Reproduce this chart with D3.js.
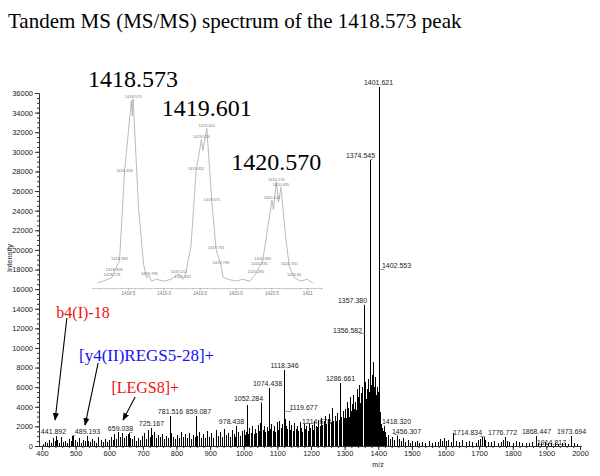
<!DOCTYPE html>
<html><head><meta charset="utf-8">
<script src="https://cdn.jsdelivr.net/npm/d3@7"></script>
<style>body{margin:0;background:#fff}svg{display:block}</style>
</head><body><svg id="c" width="600" height="476"></svg>
<script>
// ---------------- DATA ----------------
const titleText = "Tandem MS (MS/MS) spectrum of the 1418.573 peak";
const xTickValues = [400,500,600,700,800,900,1000,1100,1200,1300,1400,1500,1600,1700,1800,1900,2000];
const yTickValues = [0,2000,4000,6000,8000,10000,12000,14000,16000,18000,20000,22000,24000,26000,28000,30000,32000,34000,36000];
const xAxisLabel = "m/z";
const yAxisLabel = "Intensity";

// labelled fragment peaks
const labelledMz = [441.892,489.193,659.038,725.167,781.516,859.087,978.438,1052.284,1074.438,1118.346,1119.677,1214.678,1286.661,1356.582,1357.380,1374.545,1401.621,1402.553,1418.320,1456.307,1714.834,1776.772,1868.447,1914.817,1973.694];
const labelledIntensity = [970,970,1275,1785,3110,3010,2090,4335,5865,7800,3420,1990,6375,11370,14330,29120,36570,17900,1990,1070,870,870,1070,300,1070];
const labelledText = ["441.892","489.193","659.038","725.167","781.516","859.087","978.438","1052.284","1074.438","1118.346","1119.677","1214.678","1286.661","1356.582","1357.380","1374.545","1401.621","1402.553","1418.320","1456.307","1714.834","1776.772","1868.447","1914.817","1973.694"];

// unlabelled peaks [m/z, intensity]
const minorPeaks = [
[403,250],[409,400],[415,300],[421,600],[427,350],[433,800],[438,500],[445,650],[450,300],[456,900],[462,450],[468,550],[474,300],[480,700],[486,500],[492,1000],[497,600],[503,450],[509,800],[515,350],[521,650],[527,500],[533,1000],[538,550],[544,400],[550,750],[556,500],[562,350],[568,900],[574,600],[580,450],[586,700],[592,400],[598,650],
[604,900],[610,600],[615,1200],[621,750],[627,1400],[633,900],[639,1300],[645,800],[650,1000],[656,1200],[662,850],[668,700],[674,1000],[680,550],[686,800],[692,650],[698,1000],[704,1300],[710,750],[716,1600],[722,900],[728,1100],[734,1400],[740,800],[746,1100],[752,900],[758,1200],[764,700],[770,1000],[776,800],[784,1300],[790,900],[796,700],
[802,1100],[808,800],[814,1400],[820,950],[826,1200],[832,850],[838,1300],[844,750],[850,1100],[856,900],[862,1000],[868,1400],[874,800],[880,1200],[886,850],[892,1500],[898,950],[904,1300],[910,850],[916,1600],[922,1050],[928,1400],[934,950],[940,1700],[946,1150],[952,1300],[958,950],[964,1600],[970,1250],[975,900],[982,1400],[988,1050],[994,1500],
[1000,1600],[1004,1100],[1008,1400],[1010,4200],[1013,1200],[1017,1800],[1021,1300],[1025,2000],[1029,1200],[1033,1700],[1037,1300],[1041,2100],[1045,1500],[1048,2300],[1056,1600],[1060,2000],[1064,1400],[1068,1900],[1071,1500],[1078,1700],[1082,2200],[1086,1500],[1090,2000],[1094,1400],[1098,2400],[1102,1600],[1106,2600],[1110,1800],[1114,2200],[1122,2800],[1126,2000],[1130,1700],[1134,2500],[1138,1600],[1142,2100],[1146,1500],[1150,2300],[1154,1700],[1158,2000],[1162,1500],[1166,2400],[1170,1800],[1174,1400],[1178,2200],[1182,1700],[1186,2000],[1190,1500],[1194,2300],[1198,1800],
[1202,2100],[1206,1600],[1210,2500],[1218,1900],[1222,2700],[1226,2000],[1230,2900],[1234,2100],[1238,2500],[1242,3100],[1246,2200],[1250,2800],[1254,3300],[1258,2400],[1262,3900],[1266,2600],[1270,3100],[1274,2500],[1278,3400],[1282,2700],[1290,3000],[1294,3600],[1298,2900],
[1301,3800],[1303,2900],[1306,4500],[1308,3300],[1311,3900],[1313,3000],[1316,5000],[1318,3600],[1321,4300],[1323,3400],[1326,5200],[1328,3800],[1331,4500],[1333,3700],[1336,5800],[1338,4200],[1341,5000],[1343,6200],[1346,4400],[1348,5400],[1351,4700],[1353,6000],[1359,5200],[1361,6500],[1364,4800],[1366,5800],[1369,5000],[1371,6800],[1373,5500],[1377,6200],[1379,5400],[1382,7200],[1385,8600],[1387,6000],[1390,7000],[1392,5200],[1395,6000],[1397,4800],[1399,5500],[1404,3500],[1406,2600],[1409,2200],[1412,1800],[1415,1500],[1421,1400],[1424,900],
[1430,1100],[1436,700],[1442,900],[1448,600],[1462,700],[1468,500],[1474,800],[1480,400],[1487,600],[1494,350],[1500,500],[1508,400],[1515,550],[1522,300],[1530,450],[1540,350],[1550,500],[1560,300],[1570,450],[1578,400],[1585,700],[1590,550],[1596,800],[1602,500],[1608,650],[1615,400],[1623,1300],[1630,500],[1640,450],[1650,600],[1660,400],[1670,550],[1680,450],[1690,350],[1697,600],[1703,700],[1709,900],[1718,600],[1726,450],[1735,400],[1745,500],[1755,350],[1765,450],[1772,600],[1782,500],[1790,400],[1800,350],[1810,550],[1818,400],[1828,300],[1838,350],[1848,300],[1858,400],[1875,350],[1885,300],[1895,400],[1905,300],[1925,350],[1935,250],[1945,300],[1955,350],[1965,250],[1982,300],[1992,200]
];

// annotations (fragment assignments) and the peaks they point to
const annoText = ["b4(I)-18","[y4(II)REGS5-28]+","[LEGS8]+"];
const annoTargetMz = [439,528,641];
const annoTargetIntensity = [2650,2140,2650];

// inset: isotope cluster of the precursor (relative intensity, %)
const insetMz  = [1418.08,1418.15,1418.22,1418.278,1418.308,1418.383,1418.453,1418.548,1418.562,1418.573,1418.65,1418.72,1418.76,1418.798,1418.83,1418.90,1419.00,1419.10,1419.212,1419.262,1419.30,1419.38,1419.452,1419.526,1419.545,1419.601,1419.671,1419.731,1419.796,1419.83,1419.90,1420.00,1420.10,1420.20,1420.285,1420.335,1420.380,1420.45,1420.510,1420.53,1420.570,1420.60,1420.635,1420.70,1420.750,1420.82,1420.90,1421.00,1421.08];
const insetRel = [0,1,2,3,6,12,60,99,91,100,40,10,3,4,1,2,1,2,5,2,4,20,61,78,72,84,44,18,10,3,2,1,2,1,5,9,12,30,45,40,55,44,52,25,9,3,1,2,0];
const insetLabelled = ["1418.278","1418.308","1418.383","1418.453","1418.573","1418.798","1419.212","1419.262","1419.452","1419.526","1419.601","1419.671","1419.731","1419.796","1420.285","1420.335","1420.380","1420.510","1420.570","1420.635","1420.750","1420.82"];
const insetTickValues = [1418.5,1419.0,1419.5,1420.0,1420.5,1421];
const insetTickText = ["1418.5","1419.0","1419.5","1420.0","1420.5","1421"];
const insetPeakMz = [1418.573,1419.601,1420.570];
const insetPeakText = ["1418.573","1419.601","1420.570"];

// ---------------- LAYOUT / STYLE ----------------
const labelNudge = {
 "441.892":-3,"489.193":15,"659.038":-9,"859.087":2,"978.438":-5,"1052.284":-13,"1074.438":-2,
 "1119.677":19,"1356.582":-17,"1357.380":-12,"1374.545":-10,"1401.621":-1,"1402.553":17,
 "1418.320":12,"1456.307":9,"1714.834":-17,"1776.772":-3
};
const labelDy = {"1914.817":4};
const annoLayout = [
 {color:"#ee1111", tx:522, ti:13570, fx:474, fi:13060, size:16},
 {color:"#1111ee", tx:711, ti:9180, fx:567, fi:8470, size:17},
 {color:"#ee1111", tx:707, ti:5920, fx:677, fi:5000, size:16}
];

const svg = d3.select("#c");
const sans = "Liberation Sans, Arial, sans-serif";
const serif = "Liberation Serif, Times New Roman, serif";

const x = d3.scaleLinear().domain([400,2000]).range([42,580]);
const y = d3.scaleLinear().domain([0,36000]).range([446,93]);

svg.append("text").attr("x",8).attr("y",28).attr("font-family",serif).attr("font-size",21).attr("fill","#000").text(titleText);

const axisCol = "#333";
const gx = svg.append("g").attr("transform","translate(0,446)");
gx.call(d3.axisBottom(x).tickValues(d3.range(400,2001,20)).tickSize(2).tickFormat(""));
gx.call(g=>g.select(".domain").remove());
const gx2 = svg.append("g").attr("transform","translate(0,446)");
gx2.call(d3.axisBottom(x).tickValues(xTickValues).tickSize(4).tickPadding(1).tickFormat(d3.format("d")));
gx2.select(".domain").remove();
gx2.selectAll("text").attr("font-family",sans).attr("font-size",7.5).attr("fill","#222");
svg.append("line").attr("x1",39).attr("x2",582).attr("y1",446.5).attr("y2",446.5).attr("stroke",axisCol);

const gy = svg.append("g").attr("transform","translate(39,0)");
gy.call(d3.axisLeft(y).tickValues(d3.range(0,36001,500)).tickSize(2).tickFormat(""));
gy.select(".domain").remove();
const gy2 = svg.append("g").attr("transform","translate(39,0)");
gy2.call(d3.axisLeft(y).tickValues(yTickValues).tickSize(4).tickPadding(2).tickFormat(d3.format("d")));
gy2.select(".domain").attr("stroke",axisCol);
gy2.selectAll("text").attr("font-family",sans).attr("font-size",7.5).attr("fill","#222");
svg.selectAll(".tick line").attr("stroke",axisCol);

svg.append("text").attr("x",378).attr("y",467).attr("text-anchor","middle").attr("font-family",sans).attr("font-size",7).attr("fill","#222").text(xAxisLabel);
svg.append("text").attr("transform","translate(12,258) rotate(-90)").attr("text-anchor","middle").attr("font-family",sans).attr("font-size",7.5).attr("fill","#222").text(yAxisLabel);

// sticks
const sticks = svg.append("g").attr("stroke","#000").attr("stroke-width",1).attr("shape-rendering","crispEdges");
sticks.selectAll("line.m").data(minorPeaks).join("line").attr("class","m")
 .attr("x1",d=>Math.round(x(d[0]))+0.5).attr("x2",d=>Math.round(x(d[0]))+0.5).attr("y1",446).attr("y2",d=>y(d[1]));
const lab = labelledMz.map((m,i)=>({mz:m,I:labelledIntensity[i],t:labelledText[i]}));
sticks.selectAll("line.l").data(lab).join("line").attr("class","l")
 .attr("x1",d=>Math.round(x(d.mz))+0.5).attr("x2",d=>Math.round(x(d.mz))+0.5).attr("y1",446).attr("y2",d=>y(d.I));

// leaders + labels
const lg = svg.append("g");
lab.forEach(d=>{
  const dx = labelNudge[d.t]||0, dy = labelDy[d.t]||0;
  const px = Math.round(x(d.mz))+0.5, py = y(d.I);
  if (Math.abs(dx)>6){
    lg.append("polyline").attr("fill","none").attr("stroke","#555").attr("stroke-width",0.6)
      .attr("points",`${px},${py} ${px},${py-1} ${px+dx + (dx>0?-12:12)},${py-1}`);
  }
  lg.append("text").attr("x",px+dx).attr("y",py-2+dy).attr("text-anchor","middle")
    .attr("font-family",sans).attr("font-size",7).attr("fill","#222").text(d.t);
});

// annotations with arrows
const defs = svg.append("defs");
defs.append("marker").attr("id","ah").attr("viewBox","0 0 10 10").attr("refX",9).attr("refY",5)
 .attr("markerWidth",7).attr("markerHeight",7).attr("orient","auto")
 .append("path").attr("d","M0,1 L10,5 L0,9 Z").attr("fill","#000");
annoText.forEach((t,i)=>{
  const L = annoLayout[i];
  svg.append("line").attr("x1",x(L.fx)).attr("y1",y(L.fi)).attr("x2",x(annoTargetMz[i])).attr("y2",y(annoTargetIntensity[i]))
    .attr("stroke","#000").attr("stroke-width",1.1).attr("marker-end","url(#ah)");
  svg.append("text").attr("x",x(L.tx)).attr("y",y(L.ti)+5).attr("text-anchor","middle")
    .attr("font-family",serif).attr("font-size",L.size).attr("fill",L.color).text(t);
});

// inset
const ix = d3.scaleLinear().domain([1418.0,1421.2]).range([92,321.5]);
const iy = d3.scaleLinear().domain([0,100]).range([283,99]);
const inset = svg.append("g");
const ia = inset.append("g").attr("transform","translate(0,288)");
ia.call(d3.axisBottom(ix).tickValues(d3.range(1418.1,1421.21,0.1)).tickSize(1.5).tickFormat(""));
ia.selectAll("line,path").attr("stroke","#aaa").attr("stroke-width",0.6);
const ia2 = inset.append("g").attr("transform","translate(0,288)");
ia2.call(d3.axisBottom(ix).tickValues(insetTickValues).tickSize(2.5).tickPadding(1).tickFormat((d,i)=>insetTickText[i]));
ia2.select(".domain").remove();
ia2.selectAll("line").attr("stroke","#aaa").attr("stroke-width",0.6);
ia2.selectAll("text").attr("font-family",sans).attr("font-size",4.5).attr("fill","#777");

const ipts = insetMz.map((m,i)=>[m,insetRel[i]]);
inset.append("path").datum(ipts).attr("fill","none").attr("stroke","#a8a8a8").attr("stroke-width",0.8)
 .attr("d",d3.line().x(d=>ix(d[0])).y(d=>iy(d[1])));
insetLabelled.forEach(t=>{
  const m = +t; const k = insetMz.findIndex(v=>Math.abs(v-m)<1e-6);
  if (k<0) return;
  const v = insetRel[k];
  inset.append("text").attr("x",ix(m)).attr("y",iy(v)-1).attr("text-anchor","middle")
   .attr("font-family",sans).attr("font-size",4).attr("fill","#777").text(t);
});
insetPeakMz.forEach((m,i)=>{
  const k = insetMz.findIndex(v=>Math.abs(v-m)<1e-6);
  inset.append("text").attr("x",ix(m)).attr("y",iy(insetRel[k])-12).attr("text-anchor","middle")
   .attr("font-family",serif).attr("font-size",24).attr("fill","#000").text(insetPeakText[i]);
});
</script></body></html>
